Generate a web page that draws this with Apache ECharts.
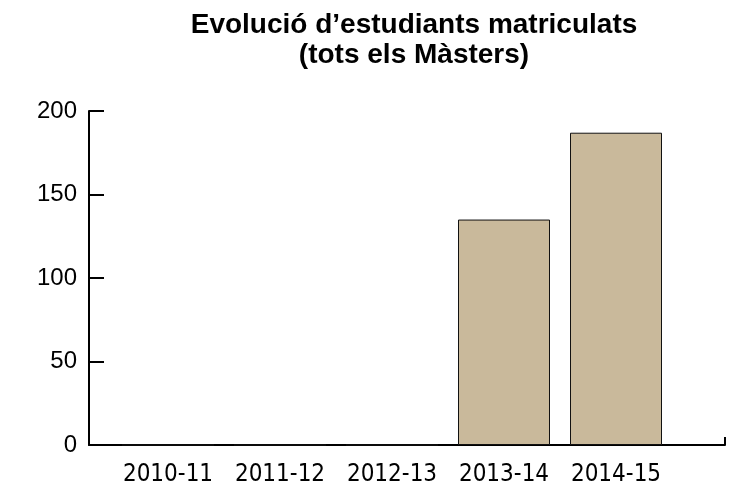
<!DOCTYPE html>
<html>
<head>
<meta charset="utf-8">
<script src="https://cdn.jsdelivr.net/npm/echarts@6/dist/echarts.min.js"></script>
<style>
  html, body { margin: 0; padding: 0; background: #fff; }
  #chart { width: 735px; height: 491px; }
</style>
</head>
<body>
<div id="chart"></div>
<script>
const titleText = 'Evolució d\u2019estudiants matriculats\n(tots els Màsters)';
const categories = ['2010-11', '2011-12', '2012-13', '2013-14', '2014-15'];
const students = [0, 0, 0, 135, 187];
const yTicks = [0, 50, 100, 150, 200];

const myChart = echarts.init(document.getElementById('chart'));

myChart.setOption({
  animation: false,
  title: {
    text: titleText,
    left: 409,
    top: 5,
    textAlign: 'center',
    textStyle: {
      fontFamily: 'Liberation Sans, Arial, sans-serif',
      fontWeight: 900,
      fontSize: 28,
      lineHeight: 30,
      color: '#000'
    }
  },
  grid: [
    { left: 89, right: 10, top: 111, bottom: 46 },
    { left: 112, width: 560, top: 111, bottom: 46 }
  ],
  xAxis: [
    {
      gridIndex: 0,
      type: 'value',
      min: 0,
      max: 1,
      interval: 1,
      axisLine: { show: true, lineStyle: { color: '#000', width: 2 } },
      axisTick: { show: true, inside: true, length: 8, lineStyle: { color: '#000', width: 2 } },
      axisLabel: { show: false },
      splitLine: { show: false }
    },
    {
      gridIndex: 1,
      type: 'category',
      data: categories,
      axisLine: { show: false },
      axisTick: { show: false },
      axisLabel: {
        interval: 0,
        margin: 18,
        fontFamily: 'Liberation Sans Narrow, DejaVu Sans Condensed, Roboto, sans-serif',
        fontSize: 24,
        color: '#000'
      }
    }
  ],
  yAxis: [
    {
      gridIndex: 0,
      type: 'value',
      min: yTicks[0],
      max: yTicks[yTicks.length - 1],
      interval: yTicks[1] - yTicks[0],
      axisLine: { show: true, lineStyle: { color: '#000', width: 2 } },
      axisTick: { show: true, inside: true, length: 15, lineStyle: { color: '#000', width: 2 } },
      axisLabel: {
        margin: 12,
        fontFamily: 'Liberation Sans, Arial, sans-serif',
        fontSize: 24,
        color: '#000'
      },
      splitLine: { show: false }
    },
    {
      gridIndex: 1,
      type: 'value',
      min: yTicks[0],
      max: yTicks[yTicks.length - 1],
      show: false
    }
  ],
  series: [
    {
      type: 'bar',
      xAxisIndex: 1,
      yAxisIndex: 1,
      data: students,
      barWidth: 92,
      itemStyle: { color: '#c9b99b', borderColor: '#111', borderWidth: 1 }
    }
  ]
});
</script>
</body>
</html>
